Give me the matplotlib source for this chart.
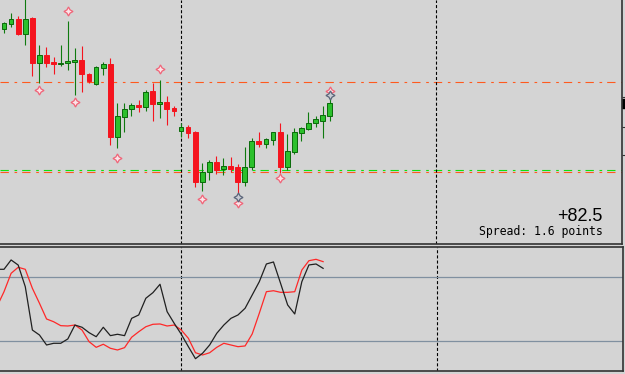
import numpy as np
import matplotlib
matplotlib.use("Agg")
import matplotlib.pyplot as plt
from matplotlib.patches import Rectangle

# candles, price in points (higher = up)
opens  = [221, 226, 231, 216, 232, 187, 195, 188, 186, 187, 188, 190, 176.5, 166, 182, 186,
          113, 133, 141, 145, 143, 159, 146, 148, 142, 119, 123, 118, 68, 78, 88, 81,
          84, 83, 68, 83, 109, 106, 110, 118, 83, 98, 117, 121, 127, 129, 134]
highs  = [228, 237, 234, 252, 233, 205, 203, 193, 205, 229, 202, 204, 177, 184, 188, 192,
          147, 147, 147, 150, 160, 167, 170, 154, 144, 127, 125, 119, 87, 90, 94, 92,
          93, 86, 103, 112, 118, 112, 118, 127, 116, 122, 123, 138, 134, 144, 153]
lows   = [217, 223, 215, 205, 174, 167, 183, 176, 184, 180, 155, 158, 167, 165, 175, 105,
          102, 118, 134, 138, 139, 129, 132, 125, 134, 113, 112, 63, 59, 70, 76, 75,
          78, 50, 64, 80, 103, 102, 105, 77, 80, 96, 109, 120, 123, 112, 129]
closes = [227, 231, 216, 231, 187, 195, 187, 186, 187, 189, 190, 176, 169, 183, 186, 113,
          134, 141, 145, 143, 158, 146, 148, 141, 139, 123, 117, 68, 78, 88, 80, 84,
          81, 68, 83, 109, 106, 111, 118, 83, 99, 118, 122, 127, 131, 135, 147]

# fractal arrows
frac_up_bars = [9, 22, 46]
frac_up_vals = [239, 181, 159]
frac_dn_bars = [5, 10, 16, 28, 33, 39]
frac_dn_vals = [160, 148, 92, 51, 47, 72]
grey_star_bars = [46, 33]
grey_star_vals = [155, 53]

# horizontal levels
level_top = 167.7
level_green = 79.6
level_orange = 77.6
separators = [25, 61]

# stochastic, starting at bar -1
stoch_bars = list(range(-1, 46))
stoch_main = [87.5, 87.5, 96.3, 91.5, 71.1, 30.3, 25.6, 16.2, 17.8, 17.8, 21.9, 35.0, 32.9, 27.8,
              24.0, 32.9, 25.0, 26.3, 25.0, 41.3, 44.5, 60.2, 65.5, 73.4, 47.6, 36.6, 26.3,
              14.6, 3.3, 8.4, 16.2, 27.2, 35.0, 41.3, 44.5, 50.8, 63.3, 75.8, 92.5, 94.4,
              74.3, 53.9, 45.4, 75.8, 91.6, 92.5, 88.4]
stoch_signal = [52.3, 66.4, 83.7, 89.4, 87.5, 69.6, 55.5, 40.7, 38.1, 34.4, 34.1, 35.0, 30.3,
                19.3, 14.0, 16.9, 13.1, 11.5, 13.7, 23.5, 28.7, 33.4, 35.7, 36.0, 34.1, 35.0,
                30.3, 22.5, 8.9, 6.8, 8.9, 14.0, 17.8, 16.2, 14.6, 15.3, 26.6, 46.1, 66.4,
                67.3, 65.8, 65.8, 66.4, 86.8, 95.6, 96.9, 94.7]
stoch_levels = [80, 20]

bg = "#D4D4D4"
up_fill, up_edge = "#2CC02C", "#0A6A0A"
dn_fill = "#F5141E"

plt.rcParams["lines.scale_dashes"] = False
W, H = 625, 374
fig = plt.figure(figsize=(W / 100, H / 100), dpi=100, facecolor=bg)
ax = fig.add_axes([0, 1 - 244 / H, 622 / W, 244 / H], facecolor=bg)
ax2 = fig.add_axes([0, 1 - 371 / H, 623 / W, 124 / H], facecolor=bg)

xmin, xmax = -0.565, 87.29
n = len(opens)
bars = np.arange(n)
o = np.array(opens); c = np.array(closes)
up = c >= o

# wicks
ax.vlines(bars[up], np.array(lows)[up], np.array(highs)[up], color="#0F7A0F", lw=0.8, zorder=2)
ax.vlines(bars[~up], np.array(lows)[~up], np.array(highs)[~up], color=dn_fill, lw=0.8, zorder=2)
# bodies
bot = np.minimum(o, c)
hgt = np.maximum(np.abs(c - o), 1.5)
ax.bar(bars[up], hgt[up], bottom=bot[up], width=0.68, color=up_fill, edgecolor=up_edge, lw=0.7, zorder=3)
ax.bar(bars[~up], hgt[~up], bottom=bot[~up], width=0.68, color=dn_fill, edgecolor=dn_fill, lw=0.7, zorder=3)

star = (4, 1, 0)
ax.plot(frac_up_bars, frac_up_vals, ls="none", marker=star, ms=6.5, mfc="#FCE4E8", mec="#F06478", mew=0.9, zorder=4)
ax.plot(frac_dn_bars, frac_dn_vals, ls="none", marker=star, ms=6.5, mfc="#FCE4E8", mec="#F06478", mew=0.9, zorder=4)
ax.plot(grey_star_bars, grey_star_vals, ls="none", marker=star, ms=6.5, mfc="#C8CCD4", mec="#5A6478", mew=0.9, zorder=4)

dashdot = (0, (6, 4.1, 1.9, 3.6))
ax.axhline(level_top, color="#FF5A1E", lw=0.8, ls=dashdot, zorder=1)
ax.axhline(level_green, color="#10E010", lw=0.8, ls=dashdot, zorder=1)
ax.axhline(level_orange, color="#FF5A1E", lw=0.8, ls=dashdot, zorder=1)

for a in (ax, ax2):
    for s in separators:
        a.axvline(s, color="black", lw=0.8, ls=(0, (2.2, 1.5)), zorder=1)

ax.set_xlim(xmin, xmax)
ax.set_ylim(6, 250)
ax2.set_xlim(xmin, xmax)
ax2.set_ylim(-8.3, 108.5)

# bid marker on price scale
ax.add_patch(Rectangle((xmax, closes[-1] - 4.5), 0.5, 9, color="black", clip_on=False, transform=ax.transData))

for a in (ax, ax2):
    a.set_xticks([])
    a.set_yticks([])
    for side in ("top", "left"):
        a.spines[side].set_visible(False)
    a.spines["right"].set_color("#333333")
    a.spines["bottom"].set_color("#333333")
    a.spines["right"].set_linewidth(1.2)
    a.spines["bottom"].set_linewidth(1.2)
ax2.spines["top"].set_visible(True)
ax2.spines["top"].set_color("#333333")
ax2.spines["top"].set_linewidth(1.2)

ax.yaxis.tick_right()
ax.set_yticks([153, 123, 95])
ax.set_yticklabels([])
ax.tick_params(axis="y", direction="out", length=2.5, color="#333333", width=0.8)

for lv in stoch_levels:
    ax2.axhline(lv, color="#8090A0", lw=0.9, zorder=1)
ax2.plot(stoch_bars, stoch_signal, color="#FF2828", lw=0.9, zorder=3)
ax2.plot(stoch_bars, stoch_main, color="#202020", lw=0.9, zorder=4)

fig.text(603 / W, 1 - 221 / H, "+82.5", ha="right", va="baseline", fontsize=13,
         family="Liberation Sans", color="black")
fig.text(603 / W, 1 - 235 / H, "Spread: 1.6 points", ha="right", va="baseline", fontsize=8.3,
         family="DejaVu Sans Mono", color="black")

fig.savefig("out.png", dpi=100, facecolor=bg)
